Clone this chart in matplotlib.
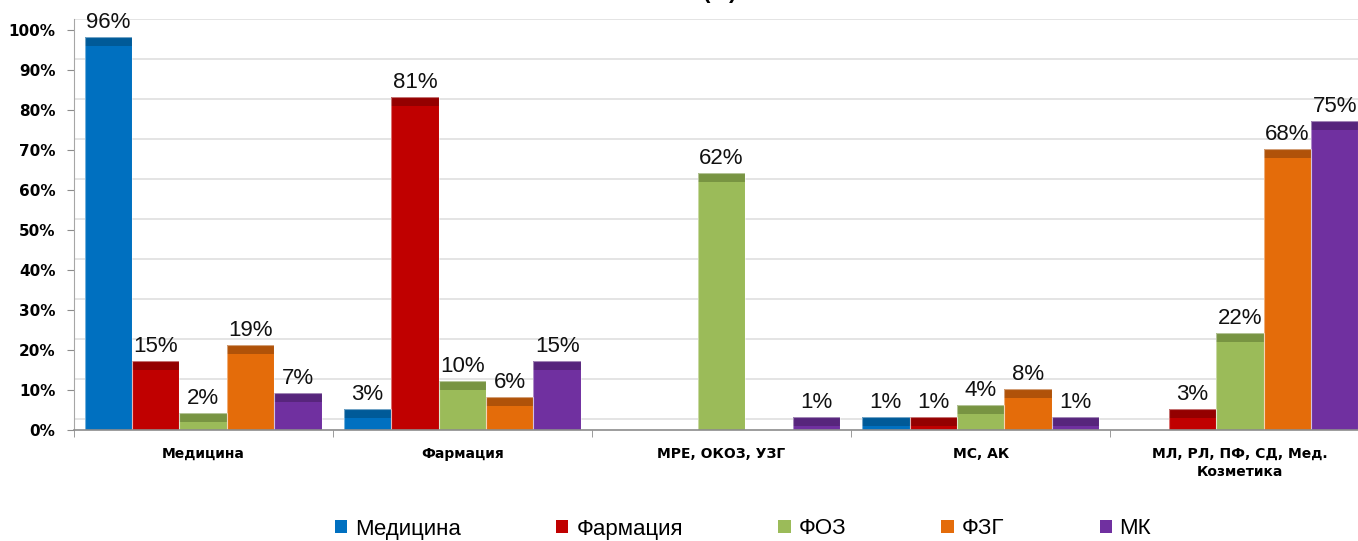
import matplotlib
matplotlib.use("Agg")
import matplotlib.pyplot as plt
from matplotlib.patches import Patch
import numpy as np

# data
categories = ["Медицина", "Фармация", "МРЕ, ОКОЗ, УЗГ", "МС, АК",
              "МЛ, РЛ, ПФ, СД, Мед.\nКозметика"]
series = ["Медицина", "Фармация", "ФОЗ", "ФЗГ", "МК"]
medicina = [96, 3, 0, 1, 0]
farmacia = [15, 81, 0, 1, 3]
foz = [2, 10, 62, 4, 22]
fzg = [19, 6, 0, 8, 68]
mk = [7, 15, 1, 1, 75]
y_ticks = [0, 10, 20, 30, 40, 50, 60, 70, 80, 90, 100]

values = [medicina, farmacia, foz, fzg, mk]
colors = ["#0070C0", "#C00000", "#9BBB59", "#E46C0A", "#7030A0"]
caps = ["#005A98", "#940000", "#789442", "#B05209", "#57257C"]

CAP = 2.2      # darker top face of the 3D bars
DEPTH = 2.7    # back wall offset of the gridlines
W = 0.183

fig = plt.figure(figsize=(13.58, 5.41), dpi=100)
ax = fig.add_axes([73.5 / 1358, 111 / 541, 1296 / 1358, 410.8 / 541])

x = np.arange(len(categories))
for gy in y_ticks:
    ax.axhline(gy + DEPTH, color="#E4E4E4", lw=1.4, zorder=0)

for i, (vals, c, cc) in enumerate(zip(values, colors, caps)):
    vals = np.array(vals, dtype=float)
    pos = x + (i - 2) * W
    m = vals > 0
    ax.bar(pos[m], vals[m], W, color=c, lw=0, zorder=2)
    ax.bar(pos[m], CAP, W, bottom=vals[m], color=cc, lw=0, zorder=2)
    # light outline around the whole bar
    ax.bar(pos[m], vals[m] + CAP, W, fill=False, edgecolor=(1, 1, 1, 0.45),
           lw=0.8, zorder=2.5)
    for px, v in zip(pos[m], vals[m]):
        ax.text(px, v + CAP + 2.4, f"{int(v)}%", ha="center", va="baseline",
                fontsize=16, family="Liberation Sans", color="#111111", zorder=3)

ax.set_xlim(-0.5, len(categories) - 0.5)
ax.set_ylim(0, 100 + DEPTH)
ax.set_yticks(y_ticks)
ax.set_yticklabels([f"{t}%" for t in y_ticks], fontsize=11, fontweight="bold",
                   family="DejaVu Sans")
ax.set_xticks(x)
ax.set_xticklabels(categories, fontsize=10, fontweight="bold",
                   family="DejaVu Sans", linespacing=1.35)
ax.set_xticks(np.arange(len(categories) + 1) - 0.5, minor=True)
ax.tick_params(axis="x", which="major", length=0, pad=12)
ax.tick_params(axis="x", which="minor", length=5, color="#8C8C8C")
ax.tick_params(axis="y", length=5, color="#8C8C8C", pad=8)

for s in ["top", "right"]:
    ax.spines[s].set_visible(False)
ax.spines["left"].set_color("#A6A6A6")
ax.spines["bottom"].set_color("#8C8C8C")
ax.spines["bottom"].set_linewidth(1.2)

# title is cut off at the top of the picture, only "(%)" peeks in
fig.text(720 / 1358, 1 + 2.0 / 541, "(%)", ha="center", va="baseline",
         fontsize=16, fontweight="bold", family="Liberation Sans")

handles = [Patch(facecolor=c, edgecolor="none") for c in colors]
fig.legend(handles, series, loc="center", bbox_to_anchor=(743 / 1358, 1 - 529 / 541),
           ncol=5, frameon=False, prop={"family": "Liberation Sans", "size": 16},
           handlelength=0.55, handleheight=0.55, handletextpad=0.35,
           columnspacing=4.3, borderaxespad=0, borderpad=0)

fig.savefig("out.png", dpi=100)
